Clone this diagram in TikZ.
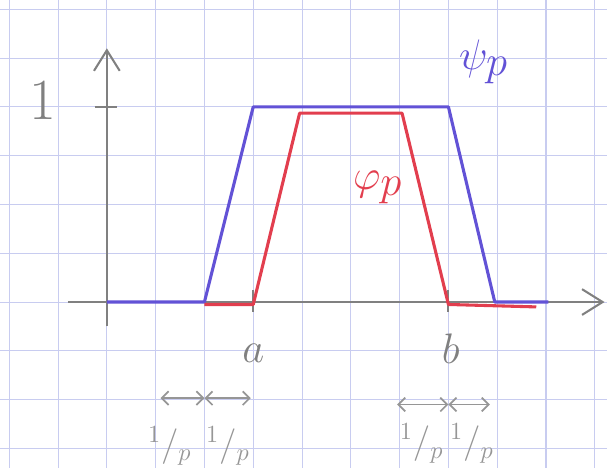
\documentclass[tikz,border=0pt]{standalone}
\usepackage{amsmath,amssymb,amsfonts}
\usepackage{xcolor}
\usepackage{tikz}
\usetikzlibrary{arrows.meta}

\definecolor{gridblue}{RGB}{200,204,240}
\definecolor{penblue}{RGB}{98,82,214}
\definecolor{penred}{RGB}{226,62,78}
\definecolor{pencil}{RGB}{128,128,128}
\definecolor{faint}{RGB}{150,150,150}

\begin{document}
\begin{tikzpicture}[
    axis/.style={line width=1.2pt, draw=pencil},
    bigarrow/.style={-{Straight Barb[length=12pt,width=15pt,line width=1.2pt]}},
    width/.style={faint, line width=1pt, {Straight Barb[length=4pt,width=8pt]}-{Straight Barb[length=4pt,width=8pt]}},
    curve/.style={line width=1.8pt, line join=round}
]
    \useasboundingbox (-2.19,-3.4) rectangle (10.25,6.19);
    \draw [gridblue, line width=0.6pt] (-2.19,-3.4) grid (10.25,6.19);

    % axes
    \draw [axis, bigarrow] (-0.8,0) -- (10.2,0);
    \draw [axis, bigarrow] (0,-0.5) -- (0,5.2);
    \draw [axis] (-0.25,4) -- (0.2,4);
    \draw [axis] (3,-0.2) -- (3,0.25);
    \draw [axis] (7,-0.2) -- (7,0.25);

    % the two trapezia
    \draw [curve, penblue] (0,0) -- (2,0) -- (3,4) -- (7,4) -- (7.95,0) -- (9.05,0);
    \draw [curve, penred] (2,-0.05) -- (3,-0.05) -- (3.95,3.87) -- (6.05,3.87) -- (7,-0.05) -- (8.8,-0.1);

    % labels
    \node [pencil, font=\fontsize{34}{36}\selectfont] (one) at (-1.31,4.14) {1};
    \node [pencil, font=\fontsize{27}{30}\selectfont] (lbla) at (3,-1.05) {$a$};
    \node [pencil, font=\fontsize{27}{30}\selectfont] (lblb) at (7.05,-0.95) {$b$};
    \node [penblue, font=\fontsize{34}{36}\selectfont] (psi) at (7.72,4.92) {$\psi_p$};
    \node [penred, font=\fontsize{40}{44}\selectfont] (phi) at (5.55,2.35) {$\varphi_p$};

    % widths 1/p
    \coordinate (l1) at (1.1,-1.97);
    \coordinate (l2) at (2,-1.97);
    \coordinate (l3) at (2.95,-1.97);
    \coordinate (r1) at (5.95,-2.1);
    \coordinate (r2) at (7,-2.1);
    \coordinate (r3) at (7.85,-2.1);
    \draw [width] (l1) -- (l2);
    \draw [width] (l2) -- (l3);
    \draw [width] (r1) -- (r2);
    \draw [width] (r2) -- (r3);
    \node [faint, font=\huge] (w1) at (1.29,-2.95) {$^1/_p$};
    \node [faint, font=\huge] (w2) at (2.48,-2.95) {$^1/_p$};
    \node [faint, font=\huge] (w3) at (6.45,-2.9) {$^1/_p$};
    \node [faint, font=\huge] (w4) at (7.48,-2.9) {$^1/_p$};
\end{tikzpicture}
\end{document}
